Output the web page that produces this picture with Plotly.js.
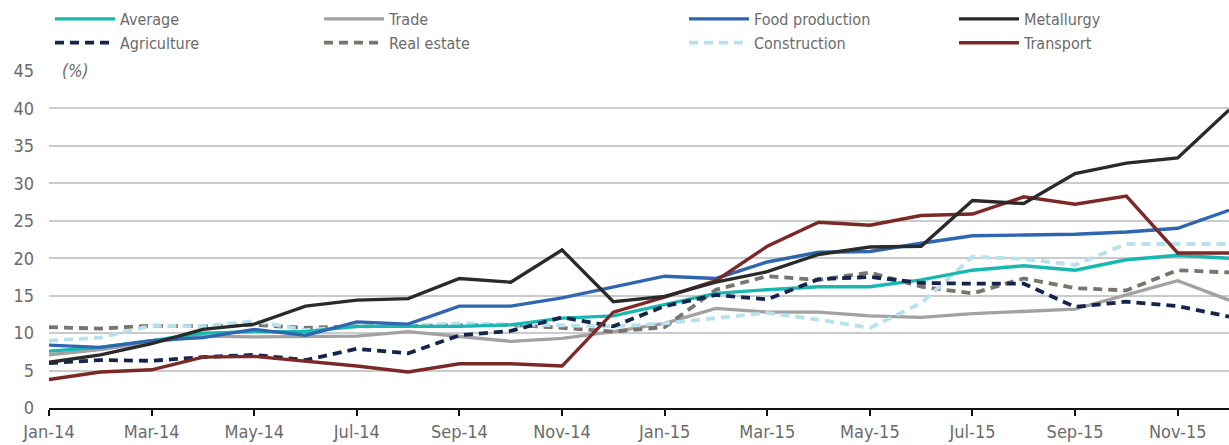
<!DOCTYPE html>
<html>
<head>
<meta charset="utf-8">
<script src="https://cdn.plot.ly/plotly-3.0.1.min.js"></script>
<style>
html,body{margin:0;padding:0;background:#fff;}
#chart{width:1229px;height:445px;}
#chart svg text{font-stretch:condensed !important;}
</style>
</head>
<body>
<div id="chart"></div>
<script>
const months = ["Jan-14","Feb-14","Mar-14","Apr-14","May-14","Jun-14","Jul-14","Aug-14","Sep-14","Oct-14","Nov-14","Dec-14",
                "Jan-15","Feb-15","Mar-15","Apr-15","May-15","Jun-15","Jul-15","Aug-15","Sep-15","Oct-15","Nov-15","Dec-15"];
const tickLabels = ["Jan-14","Mar-14","May-14","Jul-14","Sep-14","Nov-14","Jan-15","Mar-15","May-15","Jul-15","Sep-15","Nov-15"];

const average      = [7.6, 8.1, 9.0, 10.0, 10.2, 10.2, 10.9, 10.9, 10.9, 11.1, 12.0, 12.3, 13.8, 15.3, 15.8, 16.2, 16.2, 17.1, 18.4, 19.0, 18.4, 19.8, 20.4, 20.0];
const trade        = [7.1, 7.8, 8.8, 9.6, 9.5, 9.5, 9.6, 10.2, 9.6, 8.9, 9.3, 10.2, 11.3, 13.3, 12.8, 12.8, 12.3, 12.1, 12.6, 12.9, 13.2, 15.1, 17.0, 14.4];
const foodProd     = [8.4, 8.1, 9.0, 9.4, 10.5, 9.7, 11.5, 11.2, 13.6, 13.6, 14.7, 16.1, 17.6, 17.3, 19.5, 20.8, 20.9, 22.0, 23.0, 23.1, 23.2, 23.5, 24.0, 26.4];
const metallurgy   = [6.1, 7.1, 8.6, 10.5, 11.2, 13.6, 14.4, 14.6, 17.3, 16.8, 21.1, 14.2, 14.9, 16.8, 18.2, 20.5, 21.5, 21.6, 27.7, 27.3, 31.3, 32.7, 33.4, 39.8];
const agriculture  = [6.0, 6.4, 6.3, 6.8, 7.1, 6.4, 7.9, 7.3, 9.7, 10.3, 12.1, 10.9, 13.6, 15.1, 14.5, 17.2, 17.5, 16.7, 16.6, 16.6, 13.5, 14.2, 13.6, 12.2];
const realEstate   = [10.8, 10.6, 11.0, 10.9, 11.1, 10.7, 10.9, 11.0, 11.1, 11.1, 10.7, 10.2, 10.8, 15.8, 17.6, 17.1, 18.1, 16.2, 15.3, 17.3, 16.0, 15.7, 18.4, 18.1];
const construction = [9.0, 9.4, 11.0, 10.9, 11.6, 10.4, 10.9, 11.0, 11.3, 11.2, 11.1, 10.9, 11.3, 12.0, 12.7, 11.8, 10.7, 14.0, 20.2, 19.9, 19.1, 21.9, 21.9, 21.9];
const transport    = [3.8, 4.8, 5.1, 6.8, 6.9, 6.3, 5.6, 4.8, 5.9, 5.9, 5.6, 12.8, 14.8, 17.0, 21.6, 24.8, 24.4, 25.7, 25.9, 28.2, 27.2, 28.3, 20.7, 20.7];

const FONT = '"DejaVu Sans Condensed","DejaVu Sans",sans-serif';
const TXT = '#6b6b6b';

function tr(name, y, color, dash, legend, rank) {
  return {
    type: 'scatter', mode: 'lines', name: name, x: months, y: y,
    line: {color: color, width: dash ? 3.8 : 3.4, dash: dash || 'solid'},
    legend: legend, legendrank: rank, hoverinfo: 'skip'
  };
}
const DASH = '9px,6px';
const traces = [
  tr('Trade', trade, '#a2a2a2', null, 'legend2', 1),
  tr('Real estate', realEstate, '#7b736d', DASH, 'legend2', 2),
  tr('Construction', construction, '#b7e1ee', DASH, 'legend3', 2),
  tr('Average', average, '#18b8b0', null, 'legend', 1),
  tr('Agriculture', agriculture, '#13244d', DASH, 'legend', 2),
  tr('Food production', foodProd, '#2e66b0', null, 'legend3', 1),
  tr('Transport', transport, '#7b2826', null, 'legend4', 2),
  tr('Metallurgy', metallurgy, '#2a2a2a', null, 'legend4', 1)
];

function leg(xpx) {
  return {
    x: xpx / 1229, xref: 'container', xanchor: 'left',
    y: 1 - 2 / 445, yref: 'container', yanchor: 'top',
    orientation: 'v', traceorder: 'normal',
    font: {family: FONT, size: 16, color: TXT},
    bgcolor: 'rgba(0,0,0,0)', borderwidth: 0,
    itemwidth: 60, tracegroupgap: 0
  };
}

const layout = {
  width: 1229, height: 445,
  margin: {l: 49, r: 0, t: 71, b: 37, autoexpand: false},
  paper_bgcolor: '#ffffff', plot_bgcolor: '#ffffff',
  font: {family: FONT, size: 18, color: TXT},
  showlegend: true,
  legend: leg(50),
  legend2: leg(319),
  legend3: leg(684),
  legend4: leg(954),
  xaxis: {
    type: 'category', range: [0, 23],
    tickmode: 'array', tickvals: tickLabels, ticktext: tickLabels,
    tickangle: 0,
    ticks: 'outside', ticklen: 6, tickwidth: 2, tickcolor: '#111',
    showline: true, linecolor: '#111', linewidth: 2,
    showgrid: false, zeroline: false,
    tickfont: {family: FONT, size: 18, color: TXT}
  },
  yaxis: {
    range: [0, 45], tick0: 0, dtick: 5,
    showgrid: true, gridcolor: '#c9cbcc', gridwidth: 2,
    zeroline: false, showline: false, ticks: '',
    ticklabelstandoff: 14,
    tickfont: {family: FONT, size: 18, color: TXT}
  },
  annotations: [{
    text: '<i>(%)</i>', xref: 'paper', yref: 'y', x: 0.0075, y: 45,
    xanchor: 'left', yanchor: 'middle', showarrow: false,
    bgcolor: '#ffffff', borderpad: 3,
    font: {family: FONT, size: 17, color: TXT}
  }]
};

Plotly.newPlot('chart', traces, layout, {staticPlot: true, displayModeBar: false});
</script>
</body>
</html>
